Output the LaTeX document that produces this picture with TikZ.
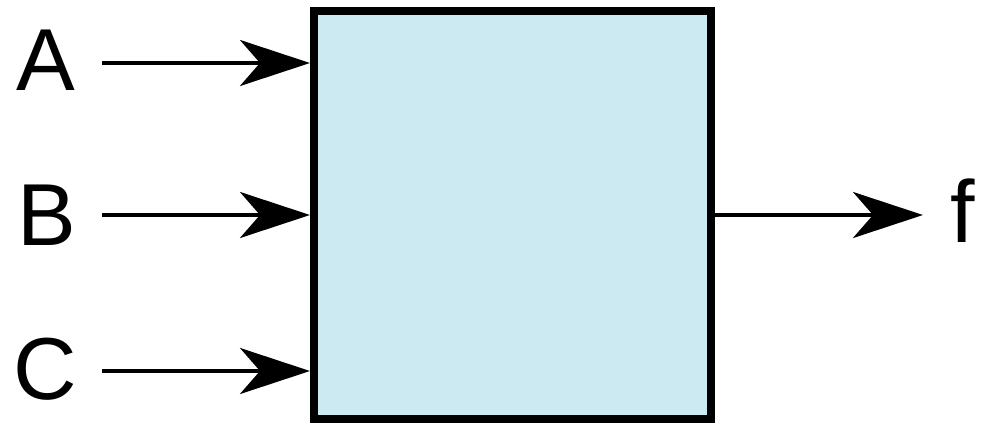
\documentclass[tikz,border=0pt]{standalone}
\usepackage{fontspec}
\setmainfont{Liberation Sans}
\usetikzlibrary{arrows.meta}
\definecolor{boxblue}{RGB}{203,234,242}

\begin{document}
\begin{tikzpicture}[x=1pt, y=-1pt,
		sig/.style={line width=4pt, -{Stealth[length=70pt, width=46pt, inset=20pt]}},
		lbl/.style={anchor=base, inner sep=0pt, font=\fontsize{88}{88}\selectfont}]
		\useasboundingbox (0,0) rectangle (986,428);

		\node[draw, line width=8pt, fill=boxblue, minimum width=397pt, minimum height=408pt, inner sep=0pt] (blk) at (512.5,215) {};

		\node[lbl] (a) at (46,91) {A};
		\node[lbl] (b) at (47,245) {B};
		\node[lbl] (c) at (45,399) {C};
		\node[lbl] (f) at (963,242) {f};

		\coordinate (ain) at (102,63);
		\coordinate (bin) at (102,215);
		\coordinate (cin) at (102,371);
		\coordinate (fout) at (923,215);

		\draw[sig] (ain) -- (ain -| blk.west);
		\draw[sig] (bin) -- (bin -| blk.west);
		\draw[sig] (cin) -- (cin -| blk.west);
		\draw[sig] (blk.east |- fout) -- (fout);

	\end{tikzpicture}
\end{document}
